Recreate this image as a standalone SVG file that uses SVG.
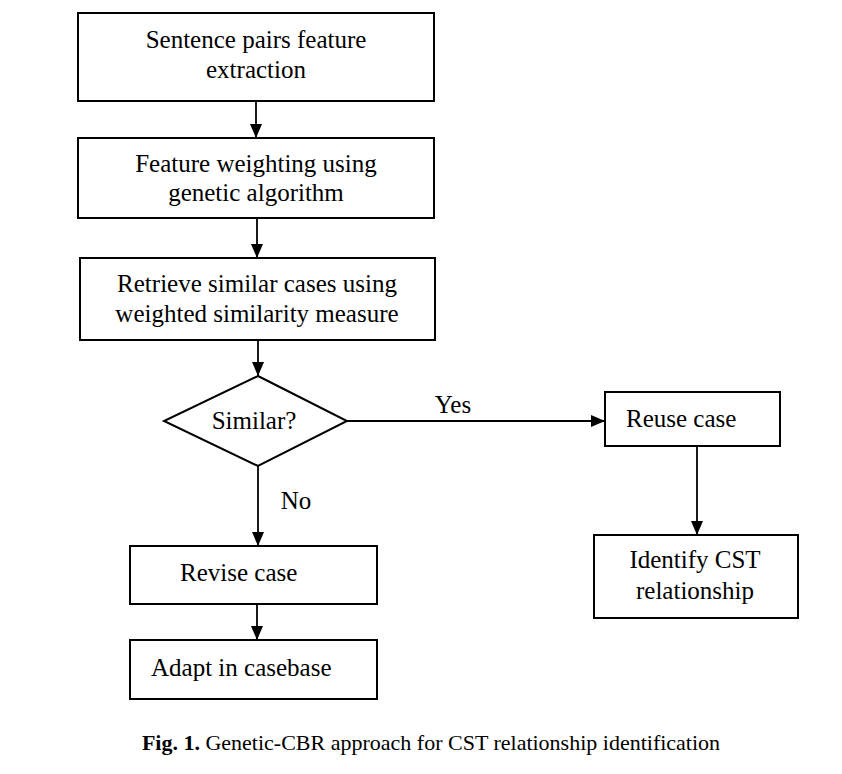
<svg xmlns="http://www.w3.org/2000/svg" width="842" height="774" viewBox="0 0 842 774">
<defs>
<marker id="arr" markerWidth="14" markerHeight="12" refX="14" refY="5" orient="auto" markerUnits="userSpaceOnUse" viewBox="0 0 14 10" preserveAspectRatio="none">
<path d="M0,0 L14,5 L0,10 Z" fill="#000"/>
</marker>
</defs>
<style>
.box{fill:#fff;stroke:#000;stroke-width:2}
.t{font-family:"Liberation Serif","Times New Roman",serif;font-size:25px;fill:#000}
.c{text-anchor:middle}
.ln{stroke:#000;stroke-width:1.8;fill:none}
.cap{font-family:"Liberation Serif","Times New Roman",serif;font-size:22px;fill:#000}
</style>
<rect width="842" height="774" fill="#fff"/>
<g id="connectors">
<line class="ln" x1="256" y1="101" x2="256" y2="138" marker-end="url(#arr)"/>
<line class="ln" x1="257" y1="218" x2="257" y2="258" marker-end="url(#arr)"/>
<line class="ln" x1="258" y1="340" x2="258" y2="376" marker-end="url(#arr)"/>
<line class="ln" x1="347" y1="421" x2="605" y2="421" marker-end="url(#arr)"/>
<line class="ln" x1="697" y1="446" x2="697" y2="535" marker-end="url(#arr)"/>
<line class="ln" x1="258" y1="466" x2="258" y2="546" marker-end="url(#arr)"/>
<line class="ln" x1="257" y1="604" x2="257" y2="640" marker-end="url(#arr)"/>
<text class="t" x="453" y="413" text-anchor="middle">Yes</text>
<text class="t" x="296" y="509" text-anchor="middle">No</text>
</g>
<g id="n1">
<rect class="box" x="78" y="13" width="356" height="88"/>
<text class="t c" x="256" y="48">Sentence pairs feature</text>
<text class="t c" x="256" y="78">extraction</text>
</g>
<g id="n2">
<rect class="box" x="78" y="138" width="356" height="80"/>
<text class="t c" x="256" y="172">Feature weighting using</text>
<text class="t c" x="256" y="201">genetic algorithm</text>
</g>
<g id="n3">
<rect class="box" x="80" y="258" width="355" height="82"/>
<text class="t c" x="257" y="292">Retrieve similar cases using</text>
<text class="t c" x="257" y="322">weighted similarity measure</text>
</g>
<g id="n4">
<polygon class="box" points="258,376 347,421 258,466 164,421"/>
<text class="t c" x="254" y="429">Similar?</text>
</g>
<g id="n5">
<rect class="box" x="605" y="392" width="175" height="54"/>
<text class="t" x="626" y="427">Reuse case</text>
</g>
<g id="n6">
<rect class="box" x="594" y="535" width="204" height="83"/>
<text class="t c" x="695" y="568">Identify CST</text>
<text class="t c" x="695" y="599">relationship</text>
</g>
<g id="n7">
<rect class="box" x="130" y="546" width="247" height="58"/>
<text class="t" x="180" y="581">Revise case</text>
</g>
<g id="n8">
<rect class="box" x="130" y="640" width="247" height="59"/>
<text class="t" x="151" y="676">Adapt in casebase</text>
</g>
<text class="cap" x="431" y="750" text-anchor="middle"><tspan font-weight="bold">Fig. 1.</tspan> Genetic-CBR approach for CST relationship identification</text>
</svg>
